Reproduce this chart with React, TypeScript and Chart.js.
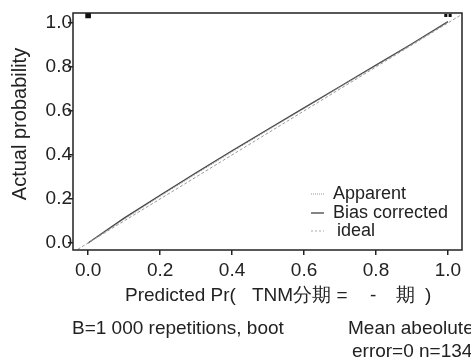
import React, { useEffect, useRef } from "react";
import { Chart, registerables } from "chart.js";

Chart.register(...registerables);

const predicted = [0.0, 0.1, 0.2, 0.3, 0.4, 0.5, 0.6, 0.7, 0.8, 0.9, 1.0];
const apparent = [0.0, 0.108, 0.212, 0.314, 0.414, 0.513, 0.611, 0.709, 0.806, 0.903, 1.004];
const biasCorrected = [0.0, 0.113, 0.217, 0.319, 0.419, 0.517, 0.614, 0.711, 0.808, 0.905, 1.006];
const idealX = [-0.1, 1.1];
const rugX = [0.0, 0.994, 1.006];
const rugY = [1.034, 1.034, 1.034];
const tickValues = [0.0, 0.2, 0.4, 0.6, 0.8, 1.0];
const legendLabels = ["Apparent", "Bias corrected", "ideal"];
const yTitle = "Actual probability";
const xTitleParts = ["Predicted Pr(", "TNM分期 =", "-", "期", ")"];
const noteLeft = "B=1 000 repetitions, boot";
const noteRight1 = "Mean abeolute";
const noteRight2 = "error=0 n=134";

const FONT = '"Liberation Sans", Arial, sans-serif';
const INK = "#222";

const textPlugin = {
  id: "textPlugin",
  afterDraw(chart: any) {
    const ctx = chart.ctx;
    const a = chart.chartArea;
    ctx.save();
    // frame
    ctx.strokeStyle = INK;
    ctx.lineWidth = 1.5;
    ctx.strokeRect(a.left, a.top, a.right - a.left, a.bottom - a.top);

    ctx.fillStyle = INK;
    // y title
    ctx.font = `20px ${FONT}`;
    ctx.save();
    ctx.translate(20, 124);
    ctx.rotate(-Math.PI / 2);
    ctx.textAlign = "center";
    ctx.textBaseline = "middle";
    ctx.fillText(yTitle, 0, 0);
    ctx.restore();

    // x title
    ctx.textAlign = "left";
    ctx.textBaseline = "alphabetic";
    ctx.font = `19px ${FONT}`;
    const xs = [125, 252, 370, 396, 425];
    xTitleParts.forEach((t, i) => ctx.fillText(t, xs[i], 301));

    // notes
    ctx.fillText(noteLeft, 72, 334);
    ctx.fillText(noteRight1, 348, 334);
    ctx.fillText(noteRight2, 352, 357);

    // legend
    ctx.font = `18px ${FONT}`;
    const ly = [199, 218, 236];
    const lx = [333, 333, 337];
    const styles = [
      { color: "#999", dash: [1, 1], w: 1 },
      { color: "#333", dash: [], w: 1.2 },
      { color: "#aaa", dash: [2, 2], w: 1 },
    ];
    legendLabels.forEach((t, i) => {
      ctx.fillStyle = INK;
      ctx.fillText(t, lx[i], ly[i]);
      ctx.beginPath();
      ctx.setLineDash(styles[i].dash);
      ctx.strokeStyle = styles[i].color;
      ctx.lineWidth = styles[i].w;
      ctx.moveTo(311, ly[i] - 5);
      ctx.lineTo(324, ly[i] - 5);
      ctx.stroke();
    });
    ctx.restore();
  },
};

export default function App() {
  const ref = useRef<HTMLCanvasElement | null>(null);
  useEffect(() => {
    if (!ref.current) return;
    const setTicks = (scale: any) => {
      scale.ticks = tickValues.map((v) => ({ value: v }));
    };
    const chart = new Chart(ref.current, {
      type: "line",
      data: {
        datasets: [
          {
            label: "ideal",
            data: idealX.map((x) => ({ x, y: x })),
            borderColor: "#999",
            borderDash: [3, 2],
            borderWidth: 1,
            pointRadius: 0,
          },
          {
            label: "Apparent",
            data: predicted.map((x, i) => ({ x, y: apparent[i] })),
            borderColor: "#888",
            borderDash: [1, 1],
            borderWidth: 1,
            pointRadius: 0,
          },
          {
            label: "Bias corrected",
            data: predicted.map((x, i) => ({ x, y: biasCorrected[i] })),
            borderColor: "#444",
            borderWidth: 1.3,
            pointRadius: 0,
          },
          {
            label: "rug",
            data: rugX.map((x, i) => ({ x, y: rugY[i] })),
            showLine: false,
            pointStyle: "rect",
            pointRadius: [4, 2.2, 2.2],
            backgroundColor: "#111",
            borderColor: "#111",
            borderWidth: 0,
          },
        ],
      },
      options: {
        animation: false,
        responsive: false,
        events: [],
        layout: { padding: { top: 13, right: 9, left: 0, bottom: 0 } },
        plugins: { legend: { display: false }, tooltip: { enabled: false } },
        scales: {
          x: {
            type: "linear",
            min: -0.042,
            max: 1.039,
            afterBuildTicks: setTicks,
            afterFit: (s: any) => {
              s.height = 111;
            },
            border: { display: false },
            grid: {
              drawOnChartArea: false,
              drawTicks: true,
              tickLength: 5,
              color: INK,
              lineWidth: 1.5,
            },
            ticks: {
              padding: 4,
              color: INK,
              font: { family: FONT, size: 19 },
              maxRotation: 0,
              callback: (v: any) => Number(v).toFixed(1),
            },
          },
          y: {
            type: "linear",
            min: -0.032,
            max: 1.045,
            afterBuildTicks: setTicks,
            afterFit: (s: any) => {
              s.width = 73;
            },
            border: { display: false },
            grid: {
              drawOnChartArea: false,
              drawTicks: true,
              tickLength: 5,
              color: INK,
              lineWidth: 1.5,
            },
            ticks: {
              padding: -4,
              color: INK,
              font: { family: FONT, size: 19 },
              callback: (v: any) => Number(v).toFixed(1),
            },
          },
        },
      },
      plugins: [textPlugin],
    });
    return () => chart.destroy();
  }, []);
  return (
    <div style={{ position: "absolute", left: 0, top: 0, width: 471, height: 361, background: "#fff" }}>
      <canvas ref={ref} width={471} height={361} style={{ display: "block" }} />
    </div>
  );
}
